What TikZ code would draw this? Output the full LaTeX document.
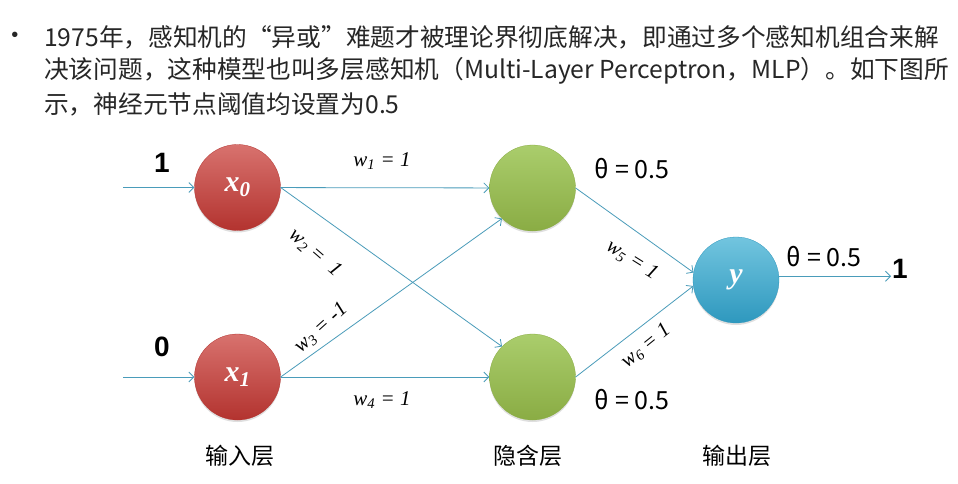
\documentclass[tikz,border=0pt]{standalone}
\usepackage{fontspec}
\setmainfont{Noto Sans CJK SC}
\newfontfamily\serifw{Liberation Serif}
\newfontfamily\arialw{Liberation Sans}
\usetikzlibrary{arrows.meta,shadows}
\definecolor{linkblue}{HTML}{4A9CBA}
\definecolor{redtop}{HTML}{D8726E}
\definecolor{redbot}{HTML}{B3332F}
\definecolor{greentop}{HTML}{AACD6C}
\definecolor{greenbot}{HTML}{8AAC44}
\definecolor{bluetop}{HTML}{72C5DF}
\definecolor{bluebot}{HTML}{2E98BE}

\begin{document}
\begin{tikzpicture}[x=1pt, y=-1pt,
    neuron/.style={circle, minimum size=86pt, inner sep=0pt, line width=0.3pt,
      drop shadow={opacity=0.25, shadow xshift=0pt, shadow yshift=-2pt},
      text=white, font=\serifw\bfseries\itshape\fontsize{30}{30}\selectfont},
    inneuron/.style={neuron, top color=redtop, bottom color=redbot, draw=redbot},
    hidneuron/.style={neuron, top color=greentop, bottom color=greenbot, draw=greenbot},
    outneuron/.style={neuron, top color=bluetop, bottom color=bluebot, draw=bluebot},
    link/.style={draw=linkblue, line width=0.8pt, -{Straight Barb[length=5pt, width=10pt]}},
    wlab/.style={font=\serifw\itshape\fontsize{21}{21}\selectfont, inner sep=1pt},
    theta/.style={font=\fontsize{25}{25}\selectfont, inner sep=1pt},
    bignum/.style={font=\arialw\bfseries\fontsize{28}{28}\selectfont, inner sep=1pt},
    layer/.style={font=\fontsize{23}{23}\selectfont, inner sep=1pt},
    headline/.style={anchor=west, inner sep=0pt, text=black!85,
      font=\fontsize{24.7}{24.7}\selectfont}]
  \fill[white] (0,0) rectangle (958,484);
  \useasboundingbox (0,0) rectangle (958,484);

  \node[font=\arialw\fontsize{20}{20}\selectfont, text=black!85] (dot) at (15,37) {•};
  \node[headline] (l1) at (44,37) {1975年，感知机的“异或”难题才被理论界彻底解决，即通过多个感知机组合来解};
  \node[headline] (l2) at (44,71) {决该问题，这种模型也叫多层感知机（Multi-Layer Perceptron，MLP）。如下图所};
  \node[headline] (l3) at (44,104) {示，神经元节点阈值均设置为0.5};

  \node[inneuron]  (x0) at (237.5,187.5) {x\textsubscript{0}};
  \node[inneuron]  (x1) at (237.5,377)   {x\textsubscript{1}};
  \node[hidneuron] (h0) at (532.5,188)   {};
  \node[hidneuron] (h1) at (532.5,377)   {};
  \node[outneuron] (y)  at (736,280)     {y};

  \coordinate (in0) at (123,187.5);
  \coordinate (in1) at (123,377);
  \node[bignum] (v0)  at (162,163) {1};
  \node[bignum] (v1)  at (162,347) {0};
  \node[bignum] (res) at (900,269) {1};

  \draw[link] (in0) -- (x0);
  \draw[link] (in1) -- (x1);
  \draw[link] (x0) -- (h0);
  \draw[link] (x0.east) -- (h1.135);
  \draw[link] (x1.east) -- (h0.225);
  \draw[link] (x1) -- (h1);
  \draw[link] (h0.east) -- (y.170);
  \draw[link] (h1.east) -- (y.188);
  \draw[link] (y.5) -- (res.west |- y.5);

  \node[wlab] (w1) at (382,161) {w\textsubscript{1} = 1};
  \node[wlab, rotate=-41] (w2) at (315,253) {w\textsubscript{2} = \ 1};
  \node[wlab, rotate=42]  (w3) at (321,328) {w\textsubscript{3} = -1};
  \node[wlab] (w4) at (382,400) {w\textsubscript{4} = 1};
  \node[wlab, rotate=-32] (w5) at (632,260) {w\textsubscript{5} = 1};
  \node[wlab, rotate=39]  (w6) at (646,346) {w\textsubscript{6} = 1};

  \node[theta] (t0) at (632,169) {θ = 0.5};
  \node[theta] (t1) at (632,400) {θ = 0.5};
  \node[theta] (t2) at (824,257) {θ = 0.5};

  \node[layer] (lin)  at (240,456) {输入层};
  \node[layer] (lhid) at (528,456) {隐含层};
  \node[layer] (lout) at (737,456) {输出层};
\end{tikzpicture}
\end{document}
